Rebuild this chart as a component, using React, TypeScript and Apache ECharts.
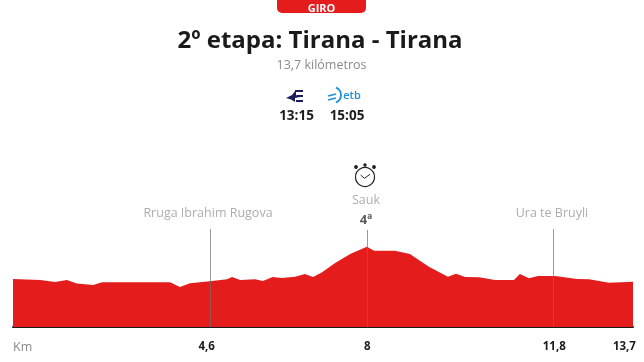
import React, { useEffect, useRef } from "react";
import * as echarts from "echarts";

const distanceKm = [0,0.60,0.93,1.19,1.41,1.77,1.97,3.47,3.69,3.91,4.35,4.73,4.84,5.02,5.35,5.52,5.74,5.94,6.23,6.45,6.63,6.83,7.11,7.45,7.82,7.98,8.44,8.77,9.19,9.61,9.79,9.99,10.30,10.65,11.07,11.20,11.40,11.60,11.98,12.46,12.73,13.17,13.7];
const elevation = [48,47,45,47,43.5,42,44.7,44.7,40,43.7,45.7,47.7,50,47,47.7,46,50,49,50.3,53,50,54.7,63.7,73,80.3,76.3,76.3,73,60.3,50.3,53.3,50,49.7,47,47,53,48.7,51,51,48,47.7,44.3,45.3];
const markerKm = [4.364, 7.8334, 11.943];
const markerTop = [98, 97, 98];
const markerNames = ["Rruga Ibrahim Rugova", "Sauk", "Ura te Bruyli"];
const tickPositions = [4.28, 7.83, 11.96, 13.51];
const tickLabels = ["4,6", "8", "11,8", "13,7"];

const SANS = "'Open Sans', 'Noto Sans', sans-serif";
const RED = "#e51c1c";
const GRAY = "#8a8a8a";
const INK = "#1c1c1c";

export default function App() {
  const ref = useRef<HTMLDivElement>(null);
  useEffect(() => {
    const chart = echarts.init(ref.current!, undefined, { renderer: "svg" });
    const text = (x: number, y: number, t: string, size: number, fill: string, weight: any = 400, align: any = "center") => ({
      type: "text", x, y,
      style: { text: t, fontFamily: SANS, fontSize: size, fontWeight: weight, fill, textAlign: align, textVerticalAlign: "middle" },
    });
    chart.setOption({
      animation: false,
      grid: { left: 13, right: 11, top: 227, bottom: 35 },
      xAxis: {
        type: "value", min: 0, max: 13.7,
        splitLine: { show: false },
        axisTick: { show: false },
        axisLine: { show: true, onZero: true, lineStyle: { color: "#1a1a1a", width: 2 } },
        axisLabel: {
          show: true, margin: 12, fontFamily: SANS, fontSize: 11.5, fontWeight: 700, color: INK,
          customValues: tickPositions,
          formatter: (v: number) => tickLabels[tickPositions.indexOf(v)] ?? "",
        },
      },
      yAxis: { type: "value", min: 0, max: 100, show: false },
      series: [{
        type: "line", symbol: "none", silent: true,
        data: distanceKm.map((d, i) => [d, elevation[i]]),
        lineStyle: { width: 0 },
        areaStyle: { color: RED, opacity: 1 },
        markLine: {
          silent: true, symbol: "none", animation: false,
          lineStyle: { color: "#6f6f6f", width: 1, type: "solid", opacity: 0.7 },
          data: markerKm.map((k, i) => [
            {
              coord: [k, 0],
              label: {
                show: true, position: "end", distance: i === 1 ? 1 : 10,
                offset: [i === 0 ? -2.5 : -1.5, 0],
                formatter: i === 1 ? `{n|${markerNames[i]}}\n{b|4ª}` : markerNames[i],
                fontFamily: SANS, fontSize: 12.5, color: GRAY,
                rich: {
                  n: { fontFamily: SANS, fontSize: 12.5, color: GRAY, lineHeight: 20 },
                  b: { fontFamily: SANS, fontSize: 13, fontWeight: 700, color: "#111111", lineHeight: 20 },
                },
              },
            },
            { coord: [k, markerTop[i]] },
          ]),
        },
      }],
      graphic: [
        { type: "rect", shape: { x: 277, y: -10, width: 89, height: 23, r: 5 }, style: { fill: RED } },
        text(321.5, 7.5, "GIRO", 11, "#ffffff", 700),
        text(320, 38, "2º etapa: Tirana - Tirana", 24, "#1a1a1a", 700),
        text(321.5, 64, "13,7 kilómetros", 12.5, GRAY),
        // first broadcaster mark
        { type: "polygon", shape: { points: [[286,98],[292,95],[296,90],[296,95],[300,97],[295,98],[295,102],[291,99.5]] }, style: { fill: "#1b1c5c" } },
        { type: "rect", shape: { x: 295, y: 90, width: 8, height: 2 }, style: { fill: "#1b1c5c" } },
        { type: "rect", shape: { x: 297, y: 95, width: 6, height: 2 }, style: { fill: "#1b1c5c" } },
        { type: "rect", shape: { x: 296, y: 100, width: 7, height: 2 }, style: { fill: "#1b1c5c" } },
        // second broadcaster mark
        { type: "arc", shape: { cx: 333, cy: 95, r: 8, startAngle: -1.2, endAngle: 1.2 }, style: { stroke: "#1e90d8", lineWidth: 1.8, fill: "none" } },
        { type: "line", shape: { x1: 328, y1: 96, x2: 336, y2: 94 }, style: { stroke: "#1e90d8", lineWidth: 1.8 } },
        { type: "line", shape: { x1: 328, y1: 100, x2: 336, y2: 98 }, style: { stroke: "#1e90d8", lineWidth: 1.8 } },
        text(352, 94, "etb", 11, "#1e90d8", 600),
        text(296.5, 115, "13:15", 13.5, INK, 700),
        text(347, 115, "15:05", 13.5, INK, 700),
        // stopwatch
        { type: "circle", shape: { cx: 365, cy: 177, r: 9.5 }, style: { fill: "none", stroke: "#222", lineWidth: 1.2 } },
        { type: "polyline", shape: { points: [[360.7,175],[364.3,178.3],[370,174.3]] }, style: { fill: "none", stroke: "#222", lineWidth: 1 } },
        { type: "circle", shape: { cx: 365, cy: 165, r: 1.7 }, style: { fill: "#222" } },
        { type: "circle", shape: { cx: 356, cy: 167, r: 1.9 }, style: { fill: "#222" } },
        { type: "circle", shape: { cx: 374, cy: 167, r: 1.9 }, style: { fill: "#222" } },
        text(13, 346, "Km", 12.5, GRAY, 400, "left"),
      ],
    });
    return () => chart.dispose();
  }, []);
  return <div ref={ref} style={{ position: "fixed", left: 0, top: 0, width: 644, height: 362 }} />;
}
